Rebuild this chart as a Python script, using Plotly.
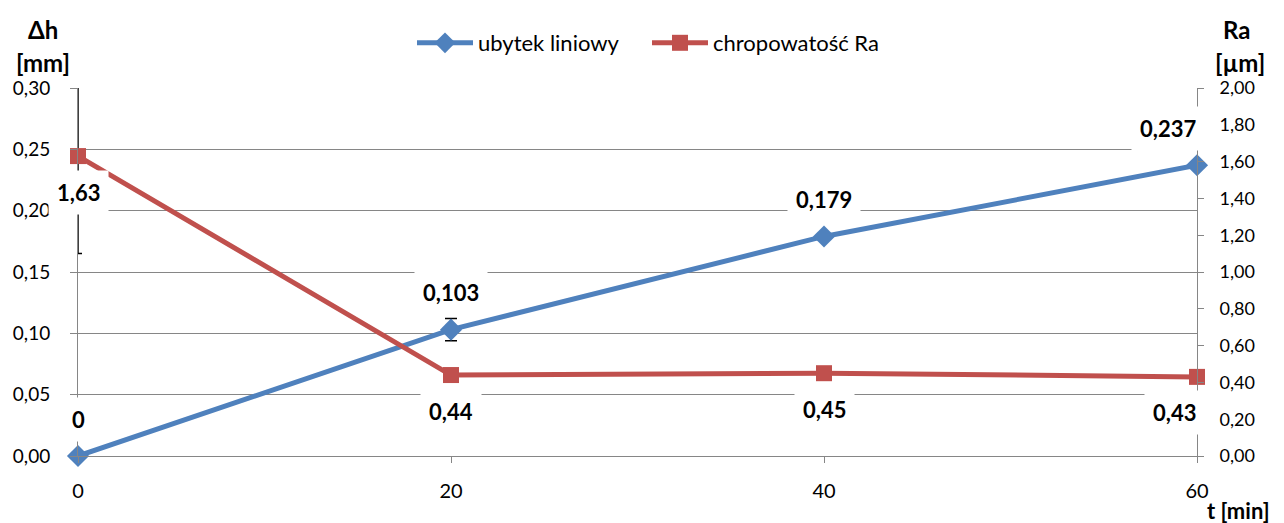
import plotly.graph_objects as go

t_min = [0, 20, 40, 60]
ubytek = [0.0, 0.103, 0.179, 0.237]
ubytek_err = [0, 0.009, 0, 0]
ra = [1.63, 0.44, 0.45, 0.43]
ra_err = [0.53, 0, 0, 0]

left_ticks = [0, 0.05, 0.10, 0.15, 0.20, 0.25, 0.30]
right_ticks = [0, 0.2, 0.4, 0.6, 0.8, 1.0, 1.2, 1.4, 1.6, 1.8, 2.0]

BLUE = "#4F81BD"
RED = "#C0504D"
GRID = "#868686"
FONT = "Lato"

# page offset (browser body margin)
OFF = 8
PAGE_W, PAGE_H = 1284, 523
W, H = PAGE_W - OFF, PAGE_H - OFF
# plot area in page pixels
PX0, PX1, PY0, PY1 = 78, 1197, 88, 456
L, T = PX0 - OFF, PY0 - OFF
R, B = W - (PX1 - OFF), H - (PY1 - OFF)
pw, ph = PX1 - PX0, PY1 - PY0


def paper(px, py):
    return (px - PX0) / pw, (PY1 - py) / ph


def fmt(v):
    return ("{:g}".format(v)).replace(".", ",")


fig = go.Figure()
fig.add_trace(go.Scatter(
    x=t_min, y=ubytek, name="ubytek liniowy", mode="lines+markers",
    line=dict(color=BLUE, width=5),
    marker=dict(symbol="diamond", size=17, color=BLUE),
    error_y=dict(type="data", array=ubytek_err, color="black", thickness=1.5, width=6),
    cliponaxis=False, yaxis="y"))
fig.add_trace(go.Scatter(
    x=t_min, y=ra, name="chropowatość Ra", mode="lines+markers",
    line=dict(color=RED, width=5),
    marker=dict(symbol="square", size=16, color=RED),
    error_y=dict(type="data", array=ra_err, color="black", thickness=1.5, width=4),
    cliponaxis=False, yaxis="y2"))

ann = []
n = len(t_min)
for i, (x, v) in enumerate(zip(t_min, ubytek)):
    last = i == n - 1
    ann.append(dict(x=x, y=v, xref="x", yref="y", text="<b>" + fmt(v) + "</b>",
                    showarrow=False, yanchor="middle",
                    xanchor="right" if last else "center",
                    xshift=8 if last else 0, yshift=37,
                    bgcolor="white", borderpad=8,
                    font=dict(family=FONT, size=22, color="black")))
for i, (x, v) in enumerate(zip(t_min, ra)):
    last = i == n - 1
    ann.append(dict(x=x, y=v, xref="x", yref="y2", text="<b>" + fmt(v) + "</b>",
                    showarrow=False, yanchor="middle",
                    xanchor="right" if last else "center",
                    xshift=8 if last else 0, yshift=-36,
                    bgcolor="white", borderpad=8,
                    font=dict(family=FONT, size=22, color="black")))

# axis titles (page pixel centres)
titles = [("<b>Δh</b>", 43, 29, 24), ("<b>[mm]</b>", 43, 62, 24),
          ("<b>Ra</b>", 1236, 29, 24), ("<b>[µm]</b>", 1240, 62, 24),
          ("<b>t [min]</b>", 1238, 510, 22)]
for txt, px, py, fs in titles:
    xp, yp = paper(px, py)
    ann.append(dict(x=xp, y=yp, xref="paper", yref="paper", text=txt,
                    xanchor="center", yanchor="middle", showarrow=False,
                    font=dict(family=FONT, size=fs, color="black")))

lx, ly = paper(412, 43)
fig.update_layout(
    width=W, height=H,
    margin=dict(l=L, r=R, t=T, b=B, autoexpand=False),
    paper_bgcolor="white", plot_bgcolor="white",
    separators=", ",
    font=dict(family=FONT, size=18, color="black"),
    showlegend=True,
    legend=dict(orientation="h", x=lx, xanchor="left",
                y=ly, yanchor="middle", itemwidth=56,
                entrywidth=164, entrywidthmode="pixels",
                font=dict(family=FONT, size=22, color="black"),
                bgcolor="rgba(0,0,0,0)"),
    xaxis=dict(range=[0, 60], tickvals=t_min, ticktext=[str(v) for v in t_min],
               showgrid=False, zeroline=False, showline=True, linecolor=GRID, linewidth=1,
               ticks="outside", ticklen=6, tickcolor=GRID, ticklabelstandoff=11,
               automargin=False, tickfont=dict(family=FONT, size=20)),
    yaxis=dict(range=[0, 0.30], tickvals=left_ticks, tickformat=".2f",
               showgrid=True, gridcolor=GRID, gridwidth=1, zeroline=False,
               showline=True, linecolor=GRID, linewidth=1,
               ticks="outside", ticklen=7, tickcolor=GRID, ticklabelstandoff=16,
               automargin=False, tickfont=dict(family=FONT, size=19)),
    yaxis2=dict(range=[0, 2.0], tickvals=right_ticks, tickformat=".2f",
                overlaying="y", side="right", showgrid=False, zeroline=False,
                showline=True, linecolor=GRID, linewidth=1,
                ticks="outside", ticklen=6, tickcolor=GRID, ticklabelstandoff=12,
                automargin=False, tickfont=dict(family=FONT, size=18)),
    annotations=ann,
)

fig.write_html("out.html")
